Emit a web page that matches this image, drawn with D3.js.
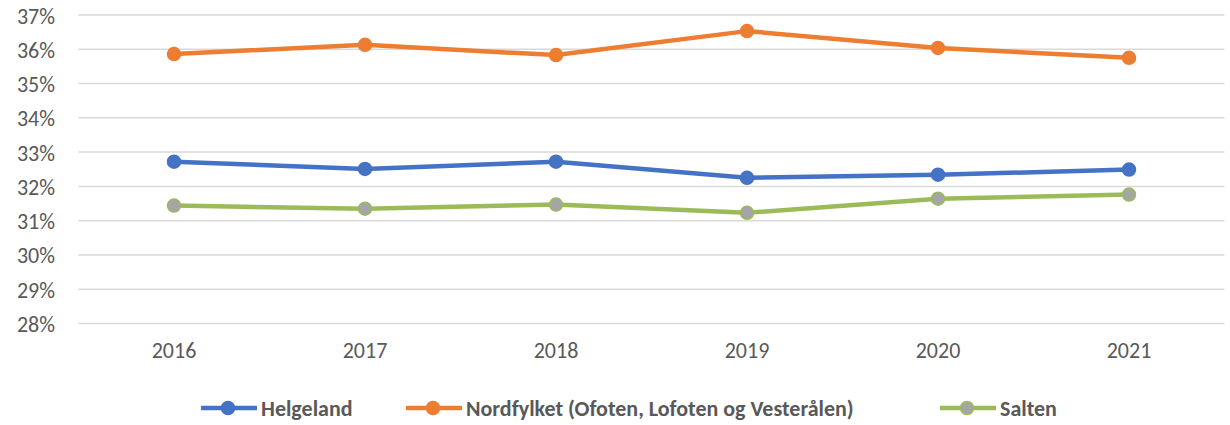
<!DOCTYPE html>
<html>
<head>
<meta charset="utf-8">
<script src="https://cdn.jsdelivr.net/npm/d3@7"></script>
<style>
  body { margin: 0; background: #fff; }
  text { font-family: Carlito, Calibri, Lato, "Liberation Sans", sans-serif; fill: #595959; }
</style>
</head>
<body>
<svg id="chart" width="1230" height="425"></svg>
<script>
// values (percent)
const years = ['2016', '2017', '2018', '2019', '2020', '2021']
const helgeland = [32.72, 32.51, 32.72, 32.25, 32.34, 32.49]
const nordfylket = [35.86, 36.13, 35.83, 36.53, 36.04, 35.75]
const salten = [31.44, 31.35, 31.47, 31.23, 31.64, 31.76]
const yTicks = [28, 29, 30, 31, 32, 33, 34, 35, 36, 37]

const series = [
  { name: 'Helgeland', values: helgeland, color: '#4472C4', fill: '#4472C4' },
  { name: 'Nordfylket (Ofoten, Lofoten og Vesterålen)', values: nordfylket, color: '#ED7D31', fill: '#ED7D31' },
  { name: 'Salten', values: salten, color: '#9BBB59', fill: '#A5A5A5' }
]

const svg = d3.select('#chart')
const x = d3.scaleBand().domain(years).range([78.5, 1224.5])
const y = d3.scaleLinear().domain([28, 37]).range([323.5, 15])

// gridlines
svg.append('g')
  .selectAll('line')
  .data(yTicks)
  .join('line')
  .attr('x1', 78.5).attr('x2', 1224.5)
  .attr('y1', d => y(d)).attr('y2', d => y(d))
  .attr('stroke', '#D9D9D9')
  .attr('stroke-width', 1.5)

// y axis labels
const yAxis = d3.axisLeft(y).tickValues(yTicks).tickFormat(d => d + '%').tickSize(0).tickPadding(0)
svg.append('g')
  .attr('transform', 'translate(55,1)')
  .call(yAxis)
  .call(g => g.select('.domain').remove())
  .selectAll('text')
  .attr('font-size', 22)
  .style('font-family', null)
  .attr('fill', '#595959')

// x axis labels
const xAxis = d3.axisBottom(x).tickSize(0).tickPadding(0)
svg.append('g')
  .attr('transform', 'translate(0,342)')
  .call(xAxis)
  .call(g => g.select('.domain').remove())
  .selectAll('text')
  .attr('font-size', 22)
  .style('font-family', null)
  .attr('fill', '#595959')

const cx = d => x(d) + x.bandwidth() / 2
const line = d3.line().x((d, i) => cx(years[i])).y(d => y(d))

for (let s of series) {
  const g = svg.append('g')
  g.append('path')
    .attr('d', line(s.values))
    .attr('fill', 'none')
    .attr('stroke', s.color)
    .attr('stroke-width', 4.5)
    .attr('stroke-linejoin', 'round')
  g.selectAll('circle')
    .data(s.values)
    .join('circle')
    .attr('cx', (d, i) => cx(years[i]))
    .attr('cy', d => y(d))
    .attr('r', 6.5)
    .attr('fill', s.fill)
    .attr('stroke', s.color)
    .attr('stroke-width', 1.5)
}

// legend
const legendPos = [201, 406, 940]
const legend = svg.append('g').attr('transform', 'translate(0,408)')
series.forEach((s, i) => {
  const lx = legendPos[i]
  legend.append('line')
    .attr('x1', lx).attr('x2', lx + 56)
    .attr('stroke', s.color).attr('stroke-width', 4.5)
  legend.append('circle')
    .attr('cx', lx + 27).attr('r', 6.5)
    .attr('fill', s.fill).attr('stroke', s.color).attr('stroke-width', 1.5)
  legend.append('text')
    .attr('x', lx + 60).attr('dy', '0.35em')
    .attr('font-size', 22).attr('font-weight', 'bold')
    .text(s.name)
})
</script>
</body>
</html>
